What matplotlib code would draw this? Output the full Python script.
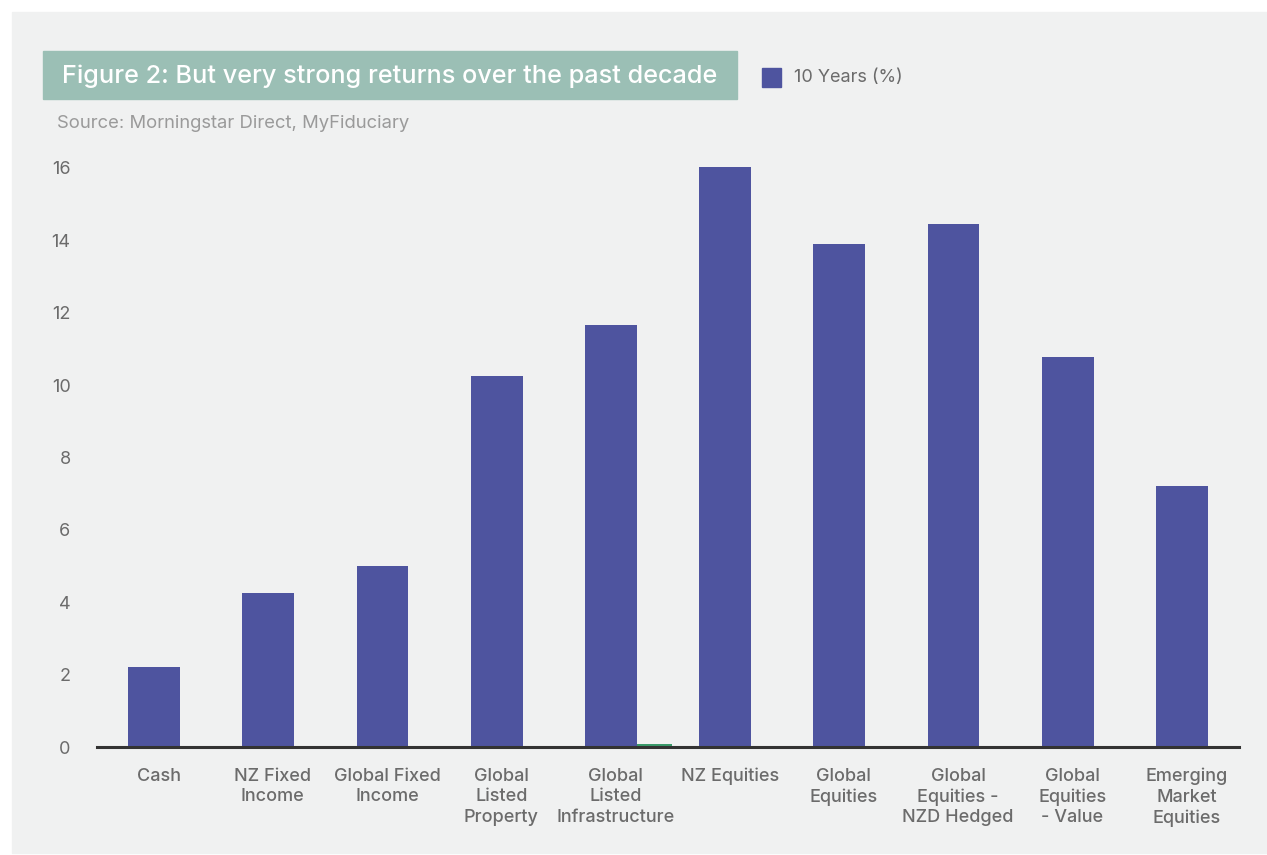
import numpy as np
import matplotlib
matplotlib.use("Agg")
import matplotlib.pyplot as plt
from matplotlib.patches import Rectangle

categories = [
    "Cash", "NZ Fixed\nIncome", "Global Fixed\nIncome", "Global\nListed\nProperty",
    "Global\nListed\nInfrastructure", "NZ Equities", "Global\nEquities",
    "Global\nEquities -\nNZD Hedged", "Global\nEquities\n- Value", "Emerging\nMarket\nEquities",
]
ten_years = [2.21, 4.26, 5.0, 10.25, 11.66, 16.03, 13.9, 14.45, 10.78, 7.21]
# faint second series, barely visible at the baseline
other_series = [0.0, 0.0, 0.02, 0.0, 0.08, 0.0, 0.0, 0.0, 0.0, 0.0]
yticks = [0, 2, 4, 6, 8, 10, 12, 14, 16]

BAR = "#4E549F"
GREEN = "#3A9A6A"
GREY = "#6B6B6B"
PANEL = "#F0F1F1"

plt.rcParams['font.family'] = ['Inter', 'DejaVu Sans']

W, H = 1267, 855
fig = plt.figure(figsize=(W / 100, H / 100), dpi=100)
fig.patch.set_facecolor("white")
fig.add_artist(Rectangle((12 / W, 2 / H), 1 - 12 / W, 841 / H,
                         transform=fig.transFigure, color=PANEL, zorder=-10))

# axes: x from 97 to 1239 px, y=0 at 747 px
ymax = 16.2
ppu = (747 - 168) / 16
top_px = 747 - ymax * ppu
ax = fig.add_axes([97 / W, (H - 747) / H, (1239 - 97) / W, (747 - top_px) / H])
ax.set_facecolor("none")
ax.set_zorder(5)

x = np.arange(len(categories))
bw = 0.455
gw = 0.31
ax.bar(x, ten_years, width=bw, color=BAR, zorder=2)
ax.bar(x + bw / 2 + gw / 2, other_series, width=gw, color=GREEN, zorder=2)

ax.set_xlim(-0.5, len(categories) - 0.5)
ax.set_ylim(0, ymax)
ax.set_yticks(yticks)
ax.set_yticklabels([str(v) for v in yticks])
ax.set_xticks(x + 0.04)
ax.set_xticklabels(categories, linespacing=1.27)
for s in ["top", "right", "left"]:
    ax.spines[s].set_visible(False)
ax.spines["bottom"].set_color("#333333")
ax.spines["bottom"].set_linewidth(2.2)
ax.spines["bottom"].set_zorder(3)
ax.tick_params(axis="both", length=0, colors=GREY, labelsize=13)
ax.tick_params(axis="y", pad=19)
ax.tick_params(axis="x", pad=15)
for lbl in ax.get_xticklabels():
    lbl.set_fontweight("medium")

# title box
fig.add_artist(Rectangle((43 / W, (H - 99) / H), (737 - 43) / W, 48 / H,
                         transform=fig.transFigure, color="#9BBFB5", zorder=1))
fig.text(62 / W, (H - 76) / H, "Figure 2: But very strong returns over the past decade",
         color="white", fontsize=18.2, fontweight="medium", va="center", ha="left",
         zorder=2)

# legend
fig.add_artist(Rectangle((762 / W, (H - 87) / H), 19 / W, 19 / H,
                         transform=fig.transFigure, color=BAR, zorder=1))
fig.text(794 / W, (H - 77) / H, "10 Years (%)", color=GREY, fontsize=13,
         va="center", ha="left")

fig.text(57 / W, (H - 124) / H, "Source: Morningstar Direct, MyFiduciary",
         color="#9A9A9A", fontsize=13.3, va="center", ha="left")

fig.savefig("out.png", dpi=100, facecolor=fig.get_facecolor())
